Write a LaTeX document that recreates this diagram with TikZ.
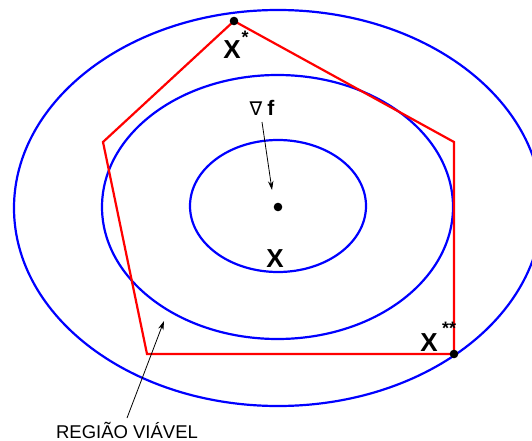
\documentclass[tikz,border=0pt]{standalone}
\usepackage{fontspec}
\setmainfont{Liberation Sans}
\newfontfamily\djv{DejaVu Sans}
\usetikzlibrary{arrows.meta}
\begin{document}
\begin{tikzpicture}[x=1pt,y=-1pt,
  ell/.style={draw=blue,line width=2.2pt},
  poly/.style={draw=red,line width=2.2pt,line join=miter},
  pt/.style={fill=black},
  lbl/.style={inner sep=0pt,font=\fontsize{26}{26}\selectfont\bfseries},
  sup/.style={inner sep=0pt,font=\fontsize{18}{18}\selectfont\bfseries},
  arr/.style={draw=black,line width=0.8pt,-{Stealth[length=9pt,width=5.5pt]}}]
\useasboundingbox (0,0) rectangle (532,441);
\begin{scope}
\clip (0,0) rectangle (532,441);
\draw[ell] (278,208) ellipse [x radius=264, y radius=198];
\end{scope}
\draw[ell] (277.5,207) ellipse [x radius=175.5, y radius=132];
\draw[ell] (278,206) ellipse [x radius=88, y radius=66];
\coordinate (p1) at (234,21);
\coordinate (p2) at (454,142);
\coordinate (p3) at (454,354);
\coordinate (p4) at (147,354);
\coordinate (p5) at (103,142);
\draw[poly] (p1) -- (p2) -- (p3) -- (p4) -- (p5) -- cycle;
\fill[pt] (p1) circle (4.3);
\fill[pt] (p3) circle (4.3);
\coordinate (c) at (278,207);
\fill[pt] (c) circle (4.3);
\node[lbl] (xs) at (232,50) {X};
\node[sup] (xss) at (245,37) {*};
\node[lbl] (x) at (275,259) {X};
\node[lbl] (xd) at (429,343) {X};
\node[sup] (xdd) at (449,328) {**};
\node[inner sep=0pt] (gf) at (262,108) {{\djv\fontsize{19}{19}\selectfont ∇}\hspace{5pt}{\fontsize{21}{21}\selectfont\bfseries f}};
\coordinate (gfs) at (262,122);
\coordinate (gft) at (272,190);
\draw[arr] (gfs) -- (gft);
\node[inner sep=0pt,font=\fontsize{18.5}{18.5}\selectfont] (rv) at (127,430) {REGIÃO VIÁVEL};
\coordinate (rvs) at (127,418);
\coordinate (rvt) at (164,321);
\draw[arr] (rvs) -- (rvt);
\end{tikzpicture}
\end{document}
